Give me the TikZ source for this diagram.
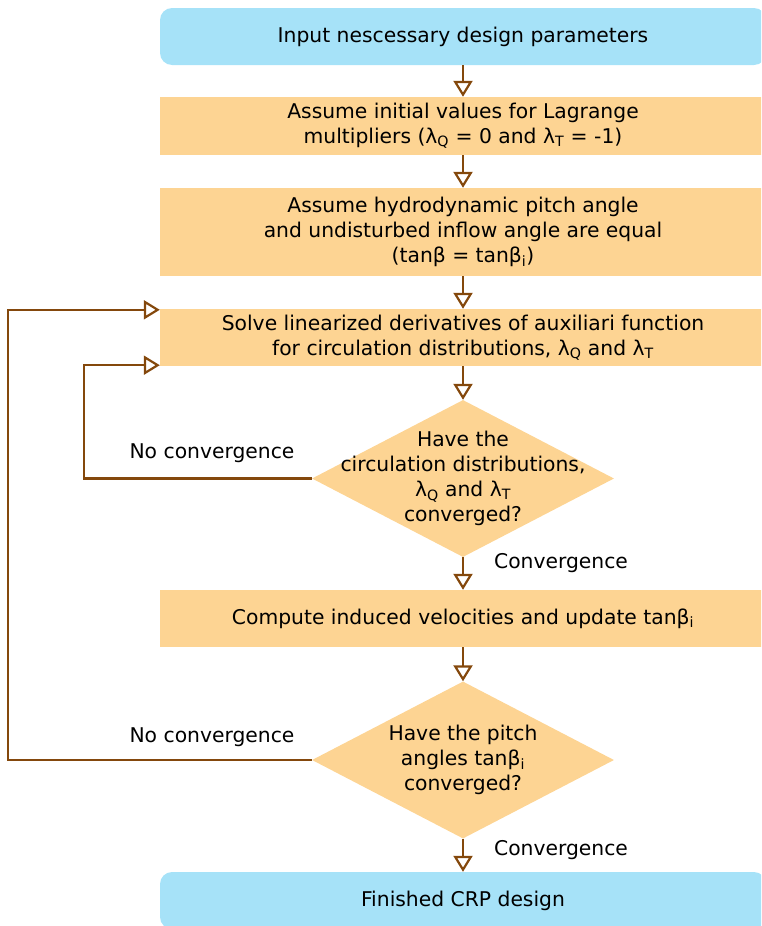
\documentclass[tikz,border=0pt]{standalone}
\usepackage{fontspec}
\setmainfont{DejaVu Sans}
\usetikzlibrary{arrows.meta,shapes.geometric}
\definecolor{boxblue}{RGB}{166,226,248}
\definecolor{boxorange}{RGB}{253,212,147}
\definecolor{arrbrown}{RGB}{132,72,12}
\tikzset{
  txt/.style={font=\fontsize{20.3}{25}\selectfont, align=center, text=black},
  procbox/.style={txt, fill=boxorange, minimum width=606pt, inner sep=0pt},
  termbox/.style={txt, fill=boxblue, minimum width=606pt, inner sep=0pt, rounded corners=12pt},
  decbox/.style={diamond, fill=boxorange, minimum width=302pt, minimum height=157pt, inner sep=0pt},
  arr/.style={draw=arrbrown, line width=2.2pt, -{Triangle[open, length=16pt, width=19pt, line width=2.2pt]}},
  lbl/.style={txt}
}
\begin{document}
\begin{tikzpicture}[x=1pt,y=-1pt]
\useasboundingbox (0,0) rectangle (761,926);
\clip (0,0) rectangle (761,926);
\node[termbox, minimum height=57pt] (b1) at (463,36.5) {Input nescessary design parameters};
\node[procbox, minimum height=58pt] (b2) at (463,126) {Assume initial values for Lagrange\\multipliers (λ\textsubscript{Q} = 0 and λ\textsubscript{T} = -1)};
\node[procbox, minimum height=88pt] (b3) at (463,232) {Assume hydrodynamic pitch angle\\and undisturbed inflow angle are equal\\(tanβ = tanβ\textsubscript{i})};
\node[procbox, minimum height=57pt] (b4) at (463,337.5) {Solve linearized derivatives of auxiliari function\\for circulation distributions, λ\textsubscript{Q} and λ\textsubscript{T}};
\node[decbox] (d1) at (463,478.5) {};
\node[txt] (d1t) at (d1.center) {Have the\\circulation distributions,\\λ\textsubscript{Q} and λ\textsubscript{T}\\converged?};
\node[procbox, minimum height=57pt] (b5) at (463,618.5) {Compute induced velocities and update tanβ\textsubscript{i}};
\node[decbox] (d2) at (463,760) {};
\node[txt] (d2t) at (d2.center) {Have the pitch\\angles tanβ\textsubscript{i}\\converged?};
\node[termbox, minimum height=57pt] (b6) at (463,900.5) {Finished CRP design};

\node[lbl] (nc1) at (212,453) {No convergence};
\node[lbl] (nc2) at (212,737) {No convergence};
\node[lbl] (c1) at (561,563) {Convergence};
\node[lbl] (c2) at (561,850) {Convergence};

\draw[arr] (b1.south) -- (b2.north);
\draw[arr] (b2.south) -- (b3.north);
\draw[arr] (b3.south) -- (b4.north);
\draw[arr] (b4.south) -- (d1.north);
\draw[arr] (d1.south) -- (b5.north);
\draw[arr] (b5.south) -- (d2.north);
\draw[arr] (d2.south) -- (b6.north);

\coordinate (l1) at (84,478.5);
\coordinate (l2) at (8,760);
\draw[arr] (d1.west) -- (l1) |- ([yshift=1pt]b4.south west);
\draw[arr] (d2.west) -- (l2) |- ([yshift=-1pt]b4.north west);
\end{tikzpicture}
\end{document}
